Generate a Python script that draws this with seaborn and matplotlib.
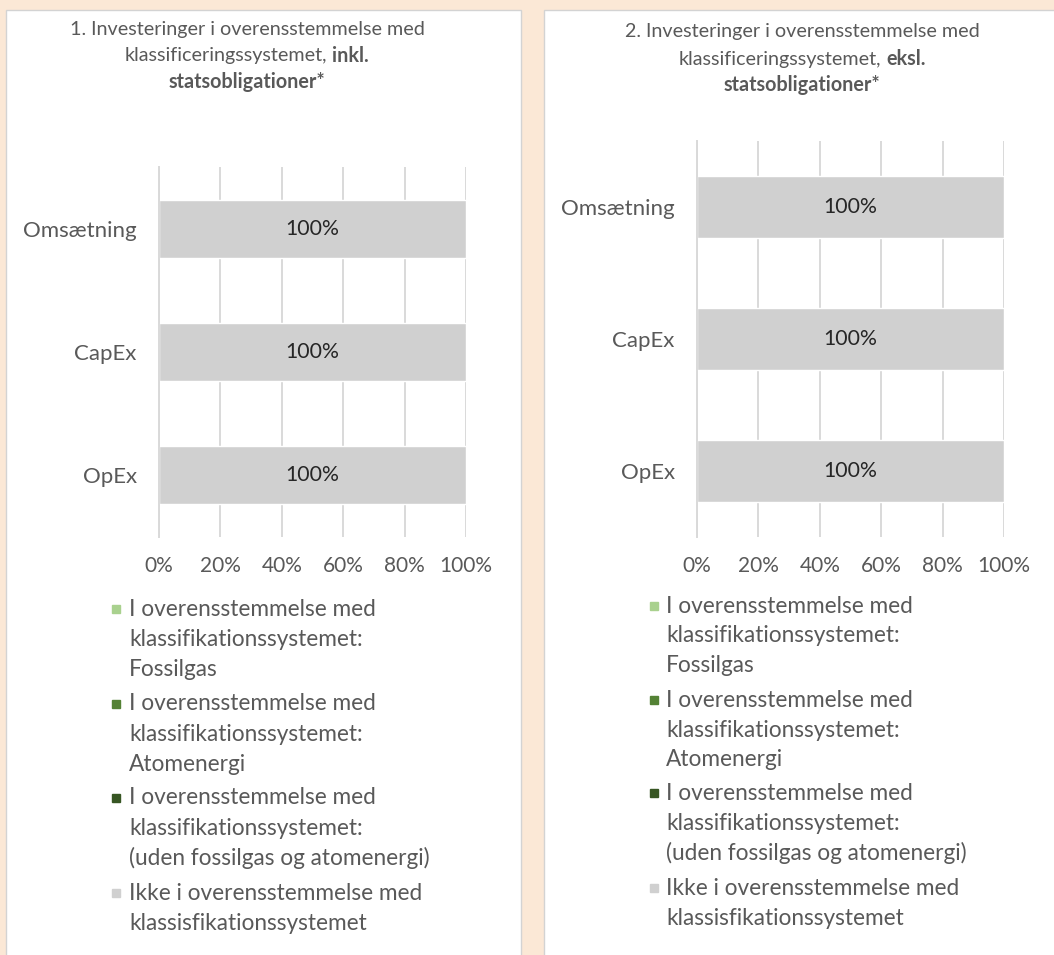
import numpy as np
import matplotlib.pyplot as plt
import seaborn as sns
from matplotlib.ticker import FixedLocator, PercentFormatter
from matplotlib.patches import Rectangle
from matplotlib.lines import Line2D

sns.set_style("white")
plt.rcParams['font.family'] = ['Lato', 'DejaVu Sans']

# --- data -----------------------------------------------------------------
categories = ["Omsætning", "CapEx", "OpEx"]

# chart 1: incl. government bonds (percent)
incl_fossilgas = [0, 0, 0]
incl_atomenergi = [0, 0, 0]
incl_other_aligned = [0, 0, 0]
incl_not_aligned = [100, 100, 100]

# chart 2: excl. government bonds (percent)
excl_fossilgas = [0, 0, 0]
excl_atomenergi = [0, 0, 0]
excl_other_aligned = [0, 0, 0]
excl_not_aligned = [100, 100, 100]

x_ticks = [0, 20, 40, 60, 80, 100]

series_labels = [
    ["I overensstemmelse med", "klassifikationssystemet:", "Fossilgas"],
    ["I overensstemmelse med", "klassifikationssystemet:", "Atomenergi"],
    ["I overensstemmelse med", "klassifikationssystemet:", "(uden fossilgas og atomenergi)"],
    ["Ikke i overensstemmelse med", "klassisfikationssystemet"],
]
series_colors = ["#A9D18E", "#548235", "#375623", "#D0D0D0"]

title_1 = ["1. Investeringer i overensstemmelse med", "klassificeringssystemet,", "inkl.", "statsobligationer*"]
title_2 = ["2. Investeringer i overensstemmelse med", "klassificeringssystemet,", "eksl.", "statsobligationer*"]

TEXT = "#595959"
GRID = "#D9D9D9"
W, H = 1054, 955


def fx(px):
    return px / W


def fy(py):
    return 1 - py / H


fig = plt.figure(figsize=(10.54, 9.55), dpi=100)
fig.patch.set_facecolor("#FBE8D6")

# white chart panels
fig.add_artist(Rectangle((fx(6), fy(965)), fx(515), 955 / H, facecolor="white",
                         edgecolor="#D3D3D3", lw=1, transform=fig.transFigure, zorder=0))
fig.add_artist(Rectangle((fx(544), fy(965)), fx(520), 955 / H, facecolor="white",
                         edgecolor="#D3D3D3", lw=1, transform=fig.transFigure, zorder=0))


def draw_chart(ax, layers):
    left = np.zeros(len(categories))
    for vals, color in zip(layers, series_colors):
        sns.barplot(x=vals, y=categories, left=left, color=color, width=0.47,
                    orient="h", edgecolor="white", linewidth=1, ax=ax)
        left = left + np.array(vals)
    last = layers[-1]
    ax.bar_label(ax.containers[-1], labels=[f"{v:.0f}%" for v in last],
                 label_type="center", color="#262626", fontsize=15.3)

    ax.set_xlim(0, 100)
    ax.xaxis.set_major_locator(FixedLocator(x_ticks))
    ax.xaxis.set_major_formatter(PercentFormatter(decimals=0))
    ax.grid(axis="x", color=GRID, lw=1.4)
    ax.grid(axis="y", visible=False)
    ax.set_axisbelow(True)
    for s in ["top", "right", "bottom"]:
        ax.spines[s].set_visible(False)
    ax.spines["left"].set_color(GRID)
    ax.spines["left"].set_linewidth(1.4)
    ax.set_yticks([-0.5, 0.5, 1.5, 2.5], minor=True)
    ax.tick_params(axis="x", length=0, pad=14, labelsize=15, labelcolor=TEXT)
    ax.tick_params(axis="y", which="major", length=0, pad=16, labelsize=16, labelcolor=TEXT)
    ax.tick_params(axis="y", which="minor", length=5, width=1.4, color=GRID)
    ax.set_xlabel("")
    ax.set_ylabel("")
    ax.patch.set_alpha(0)


def draw_title(cx, ys, parts):
    size = 14.2
    renderer = fig.canvas.get_renderer()
    fig.text(fx(cx), fy(ys[0]), parts[0], ha="center", va="center", fontsize=size, color=TEXT)
    t_reg = fig.text(0, fy(ys[1]), parts[1], ha="left", va="center", fontsize=size, color=TEXT)
    t_bold = fig.text(0, fy(ys[1]), parts[2], ha="left", va="center", fontsize=size,
                      color=TEXT, weight="bold")
    w1 = t_reg.get_window_extent(renderer).width
    w2 = t_bold.get_window_extent(renderer).width
    gap = 5
    x0 = cx - (w1 + gap + w2) / 2
    t_reg.set_x(fx(x0))
    t_bold.set_x(fx(x0 + w1 + gap))
    fig.text(fx(cx), fy(ys[2]), parts[3], ha="center", va="center", fontsize=size,
             color=TEXT, weight="bold")


def draw_legend(mx, tx, ys):
    pitch = 30
    for y0, lines, color in zip(ys, series_labels, series_colors):
        fig.add_artist(Line2D([fx(mx)], [fy(y0)], marker="s", markersize=5.5, color=color,
                              transform=fig.transFigure))
        for i, line in enumerate(lines):
            fig.text(fx(tx), fy(y0 + i * pitch), line, ha="left", va="center",
                     fontsize=16.3, color=TEXT)


# chart 1 (left)
ax1 = fig.add_axes([fx(159), fy(537), fx(307), (537 - 167) / H])
draw_chart(ax1, [incl_fossilgas, incl_atomenergi, incl_other_aligned, incl_not_aligned])
draw_title(247, [29, 56, 82], title_1)
draw_legend(116, 129, [609, 704, 798, 893])

# chart 2 (right)
ax2 = fig.add_axes([fx(697), fy(537), fx(307), (537 - 141) / H])
draw_chart(ax2, [excl_fossilgas, excl_atomenergi, excl_other_aligned, excl_not_aligned])
draw_title(802, [32, 59, 85], title_2)
draw_legend(654, 666, [606, 700, 793, 888])

fig.savefig("out.png", dpi=100)
